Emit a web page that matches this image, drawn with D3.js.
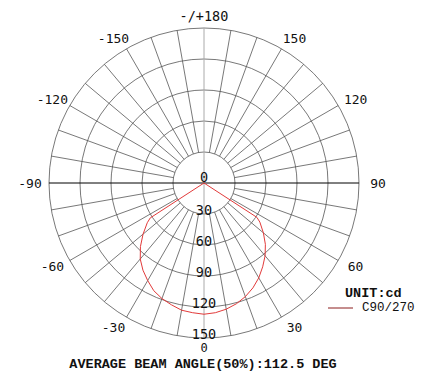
<!DOCTYPE html>
<html>
<head>
<meta charset="utf-8">
<script src="https://cdn.jsdelivr.net/npm/d3@7"></script>
<style>
  body { margin: 0; background: #fff; }
  svg text { font-family: "DejaVu Sans Mono", monospace; fill: #111; }
  svg text.serif { font-family: "Liberation Mono", "Courier New", monospace; }
</style>
</head>
<body>
<div id="chart"></div>
<script>
// ===============================
// DATA
// ===============================
const ringValues = [30, 60, 90, 120, 150];
const angleLabels = [
  { angle: 180, text: "-/+180" },
  { angle: -150, text: "-150" }, { angle: 150, text: "150" },
  { angle: -120, text: "-120" }, { angle: 120, text: "120" },
  { angle: -90, text: "-90" }, { angle: 90, text: "90" },
  { angle: -60, text: "-60" }, { angle: 60, text: "60" },
  { angle: -30, text: "-30" }, { angle: 30, text: "30" },
  { angle: 0, text: "0" },
];
const spokeAngles = d3.range(-170, 180, 10).filter((a) => a % 90 !== 0);

// C90/270 intensity (cd) by angle (deg, 0 = straight down)
const c90Angles = [-90, -60, -57, -55, -50, -45, -40, -35, -30, -25, -20, -15, -10, -5,
  0, 5, 10, 15, 20, 25, 30, 35, 40, 45, 50, 55, 57, 60, 90];
const c90Values = [0, 0, 62, 67, 77, 87, 96, 103, 109, 115, 119, 122, 125, 126,
  127, 126, 124, 121, 117, 112, 106, 99, 92, 84, 75, 66, 61, 0, 0];

const unitLabel = "UNIT:cd";
const seriesLabel = "C90/270";
const footer = "AVERAGE BEAM ANGLE(50%):112.5 DEG";

// ===============================
// DIMENSIONS
// ===============================
const W = 427, H = 371;
const cx = 204, cy = 183;
const R = 155;

const svg = d3.select("#chart").append("svg")
  .attr("width", W).attr("height", H);

const r = d3.scaleLinear().domain([0, 150]).range([0, R]);
const rad = (deg) => (deg * Math.PI) / 180;
// screen position: 0 deg points down, negative to the left
const px = (deg, rr) => cx + rr * Math.sin(rad(deg));
const py = (deg, rr) => cy + rr * Math.cos(rad(deg));

const g = svg.append("g");

// ===============================
// GRID
// ===============================
g.selectAll(".ring")
  .data(ringValues)
  .join("circle")
  .attr("cx", cx).attr("cy", cy)
  .attr("r", (d) => r(d))
  .attr("fill", "none")
  .attr("stroke", "#555")
  .attr("stroke-width", 0.8);

g.selectAll(".spoke")
  .data(spokeAngles)
  .join("line")
  .attr("x1", (d) => px(d, r(30))).attr("y1", (d) => py(d, r(30)))
  .attr("x2", (d) => px(d, r(150))).attr("y2", (d) => py(d, r(150)))
  .attr("stroke", "#555")
  .attr("stroke-width", 0.8);

// vertical axis (gray) and horizontal axis (black)
g.append("line")
  .attr("x1", cx).attr("y1", cy - R).attr("x2", cx).attr("y2", cy + R)
  .attr("stroke", "#aaa").attr("stroke-width", 1);
g.append("line")
  .attr("x1", cx - R).attr("y1", cy).attr("x2", cx + R).attr("y2", cy)
  .attr("stroke", "#000").attr("stroke-width", 1);

// ===============================
// CURVE
// ===============================
const curveData = c90Angles.map((a, i) => ({ angle: a, value: c90Values[i] }));
const radial = d3.lineRadial()
  .angle((d) => Math.PI - rad(d.angle))
  .radius((d) => r(d.value));

svg.append("path")
  .datum(curveData)
  .attr("transform", `translate(${cx},${cy})`)
  .attr("fill", "none")
  .attr("stroke", "#e23a3a")
  .attr("stroke-width", 1)
  .attr("d", radial);

// ===============================
// LABELS
// ===============================
svg.append("text")
  .attr("x", cx).attr("y", cy - 1)
  .attr("text-anchor", "middle")
  .attr("font-size", "13.5px")
  .text("0");

svg.selectAll(".ring-label")
  .data(ringValues)
  .join("text")
  .attr("x", cx)
  .attr("y", (d) => cy + r(d) + 0.5)
  .attr("text-anchor", "middle")
  .attr("font-size", "13.5px")
  .text((d) => d);

const labelR = 167;
svg.selectAll(".angle-label")
  .data(angleLabels)
  .join("text")
  .attr("x", (d) => px(d.angle, labelR) + Math.sign(Math.round(Math.sin(rad(d.angle)) * 100)) * 7)
  .attr("y", (d) => (d.angle === 0 ? py(d.angle, labelR) - 2 : py(d.angle, labelR)))
  .attr("dy", "0.35em")
  .attr("text-anchor", "middle")
  .attr("font-size", (d) => (d.angle === 180 ? "13.5px" : d.angle === 0 ? "12px" : "13px"))
  .text((d) => d.text);

// ===============================
// LEGEND
// ===============================
svg.append("text")
  .attr("class", "serif")
  .attr("x", 345).attr("y", 292).attr("dy", "0.35em")
  .attr("font-size", "13.5px")
  .attr("font-weight", "bold")
  .text(unitLabel);

svg.append("line")
  .attr("x1", 328).attr("x2", 353).attr("y1", 308).attr("y2", 308)
  .attr("stroke", "#8b1c1c").attr("stroke-width", 1);

svg.append("text")
  .attr("class", "serif")
  .attr("x", 362).attr("y", 307).attr("dy", "0.35em")
  .attr("font-size", "12.5px")
  .text(seriesLabel);

svg.append("text")
  .attr("class", "serif")
  .attr("x", 203).attr("y", 363.5).attr("dy", "0.35em")
  .attr("text-anchor", "middle")
  .attr("font-size", "13.5px")
  .attr("font-weight", "bold")
  .text(footer);
</script>
</body>
</html>
